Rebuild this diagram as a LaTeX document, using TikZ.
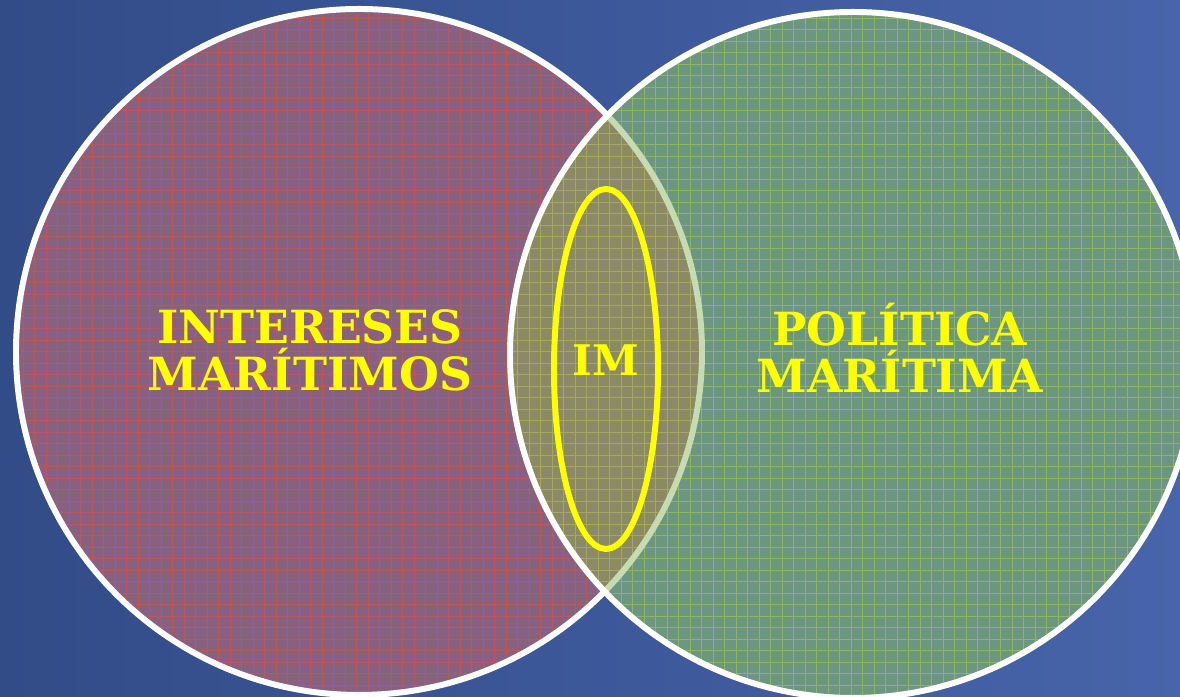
\documentclass[tikz,border=0pt]{standalone}
\usepackage{fontspec}
\setmainfont{DejaVu Serif}
\usepackage{xcolor}
\usetikzlibrary{shapes.geometric,positioning}
\definecolor{bgdark}{RGB}{50,76,136}
\definecolor{bglight}{RGB}{88,120,196}
\definecolor{bgright}{RGB}{72,100,170}
\definecolor{interc}{RGB}{136,96,128}
\definecolor{intergrid}{RGB}{184,88,94}
\definecolor{polfill}{RGB}{108,150,128}
\definecolor{polgrid}{RGB}{140,182,100}
\definecolor{lensc}{RGB}{140,138,100}
\definecolor{lensgrid}{RGB}{162,170,96}
\definecolor{imyellow}{RGB}{255,255,0}

\begin{document}
\begin{tikzpicture}[
  ring/.style={draw=white, line width=1.7pt},
  gridlines/.style={step=0.115, line width=0.28pt},
  lbl/.style={text=imyellow, font=\bfseries\fontsize{13}{13.4}\selectfont,
              align=center, inner sep=0pt}]
\useasboundingbox (0,0) rectangle (11.8,6.97);
\shade[left color=bgdark, middle color=bglight, right color=bgright]
      (0,0) rectangle (11.8,6.97);
\coordinate (ctrI) at (3.59,3.45);
\coordinate (ctrP) at (8.53,3.42);
% intereses maritimos
\fill[interc] (ctrI) circle (3.43);
\begin{scope}
  \clip (ctrI) circle (3.43);
  \draw[intergrid, gridlines] (0,0) grid (11.8,6.97);
\end{scope}
\draw[ring] (ctrI) circle (3.43);
% politica maritima
\fill[polfill] (ctrP) circle (3.43);
\begin{scope}
  \clip (ctrP) circle (3.43);
  \draw[polgrid, gridlines] (0,0) grid (11.8,6.97);
\end{scope}
% overlap
\begin{scope}
  \clip (ctrI) circle (3.43);
  \fill[lensc] (ctrP) circle (3.43);
  \clip (ctrP) circle (3.43);
  \draw[lensgrid, gridlines] (0,0) grid (11.8,6.97);
\end{scope}
\begin{scope}
  \clip (ctrP) circle (3.43);
  \draw[white!50!polgrid, line width=1.7pt] (ctrI) circle (3.43);
\end{scope}
\draw[ring] (ctrP) circle (3.43);
% labels
\node[draw=imyellow, line width=1.7pt, ellipse, minimum width=1.04cm,
      minimum height=3.6cm, inner sep=0pt] (imring) at (6.06,3.28) {};
\node[lbl] (inter) at (3.10,3.47) {INTERESES\\MARÍTIMOS};
\node[lbl] (pol) at (9.00,3.49) {POLÍTICA\\MARÍTIMA};
\node[lbl, font=\bfseries\fontsize{12}{12}\selectfont] (im) at (6.06,3.37) {IM};
\end{tikzpicture}
\end{document}
